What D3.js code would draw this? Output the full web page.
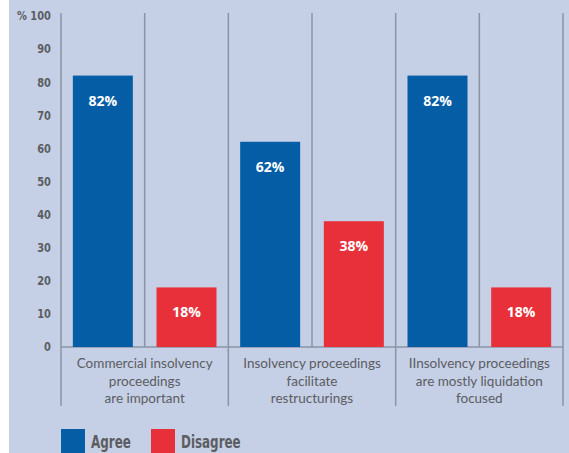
<!DOCTYPE html>
<html>
<head>
<meta charset="utf-8">
<script src="https://cdn.jsdelivr.net/npm/d3@7"></script>
<style>
  html, body { margin: 0; padding: 0; background: #ffffff; }
  svg { display: block; }
</style>
</head>
<body>
<svg id="chart" width="569" height="453"></svg>
<script>
// Survey answers per statement, in percent
const categories = [
  ["Commercial insolvency", "proceedings", "are important"],
  ["Insolvency proceedings", "facilitate", "restructurings"],
  ["IInsolvency proceedings", "are mostly liquidation", "focused"]
];
const seriesNames = ["Agree", "Disagree"];
const agreeValues = [82, 62, 82];
const disagreeValues = [18, 38, 18];
const yTicks = [0, 10, 20, 30, 40, 50, 60, 70, 80, 90, 100];

const colors = { Agree: "#045da5", Disagree: "#e8303a" };
const gridColor = "#8a94a5";
const textColor = "#5b5d61";
const condensed = "'DejaVu Sans Condensed', 'DejaVu Sans', sans-serif";

const svg = d3.select("#chart");
const W = 569, H = 453;

// panel background
svg.append("rect").attr("x", 9).attr("y", 0).attr("width", W - 9).attr("height", H)
  .attr("fill", "#c5cfe6");

const plotLeft = 61, plotRight = 563, baseY = 347, topY = 16;

const x0 = d3.scaleBand().domain(d3.range(categories.length))
  .range([plotLeft, plotRight]).padding(0);
const x1 = d3.scaleBand().domain(seriesNames)
  .range([0, x0.bandwidth()]).paddingInner(0.283).paddingOuter(0.1415);
const y = d3.scaleLinear().domain([0, 100]).range([baseY, topY]);

const rows = categories.map((c, i) => ({
  i, label: c,
  values: [{ key: "Agree", v: agreeValues[i] }, { key: "Disagree", v: disagreeValues[i] }]
}));

// vertical separators: full-height at group edges, short ones between the two bars
const groupEdges = d3.range(categories.length + 1).map(i =>
  i < categories.length ? x0(i) : x0(categories.length - 1) + x0.bandwidth());
svg.append("g").selectAll("line").data(groupEdges).join("line")
  .attr("x1", d => d).attr("x2", d => d)
  .attr("y1", 13).attr("y2", 406)
  .attr("stroke", gridColor).attr("stroke-width", 1.5);
svg.append("g").selectAll("line").data(d3.range(categories.length)).join("line")
  .attr("x1", i => x0(i) + x0.step() / 2).attr("x2", i => x0(i) + x0.step() / 2)
  .attr("y1", 13).attr("y2", baseY)
  .attr("stroke", gridColor).attr("stroke-width", 1.5);

// baseline
svg.append("line").attr("x1", plotLeft).attr("x2", plotRight)
  .attr("y1", baseY).attr("y2", baseY)
  .attr("stroke", gridColor).attr("stroke-width", 1.5);

// y axis labels (narrowed condensed bold)
const yl = svg.append("g").selectAll("text").data(yTicks).join("text")
  .attr("transform", d => `translate(51,${y(d)}) scale(0.88,1)`)
  .attr("text-anchor", "end")
  .attr("dy", "0.35em")
  .attr("fill", textColor)
  .attr("font-family", condensed)
  .attr("font-weight", "bold")
  .attr("font-size", 12.5)
  .text(d => d === 100 ? "% 100" : d);

// bars
const groups = svg.append("g").selectAll("g").data(rows).join("g")
  .attr("transform", d => `translate(${x0(d.i)},0)`);
groups.selectAll("rect").data(d => d.values).join("rect")
  .attr("x", d => x1(d.key))
  .attr("y", d => y(d.v))
  .attr("width", x1.bandwidth())
  .attr("height", d => y(0) - y(d.v))
  .attr("fill", d => colors[d.key]);
groups.selectAll("text.val").data(d => d.values).join("text")
  .attr("class", "val")
  .attr("x", d => x1(d.key) + x1.bandwidth() / 2)
  .attr("y", d => y(d.v) + 30)
  .attr("text-anchor", "middle")
  .attr("fill", "#ffffff")
  .attr("font-family", "'Open Sans', sans-serif")
  .attr("font-weight", "bold")
  .attr("font-size", 14)
  .text(d => d.v + "%");

// category labels
const catText = svg.append("g").selectAll("text").data(rows).join("text")
  .attr("x", d => x0(d.i) + x0.bandwidth() / 2)
  .attr("y", 368)
  .attr("text-anchor", "middle")
  .attr("fill", textColor)
  .attr("font-family", "Lato, sans-serif")
  .attr("font-size", 13.5);
catText.selectAll("tspan").data(d => d.label).join("tspan")
  .attr("x", function () { return d3.select(this.parentNode).attr("x"); })
  .attr("dy", (d, j) => j === 0 ? 0 : 17.5)
  .text(d => d);

// legend
const legendX = [61, 151];
const lg = svg.append("g").selectAll("g").data(seriesNames).join("g")
  .attr("transform", (d, i) => `translate(${legendX[i]},429)`);
lg.append("rect").attr("width", 24).attr("height", 24)
  .attr("fill", d => colors[d]);
lg.append("text")
  .attr("transform", "translate(30,19) scale(0.78,1)")
  .attr("fill", textColor)
  .attr("font-family", condensed)
  .attr("font-weight", "bold")
  .attr("font-size", 17)
  .text(d => d);
</script>
</body>
</html>
